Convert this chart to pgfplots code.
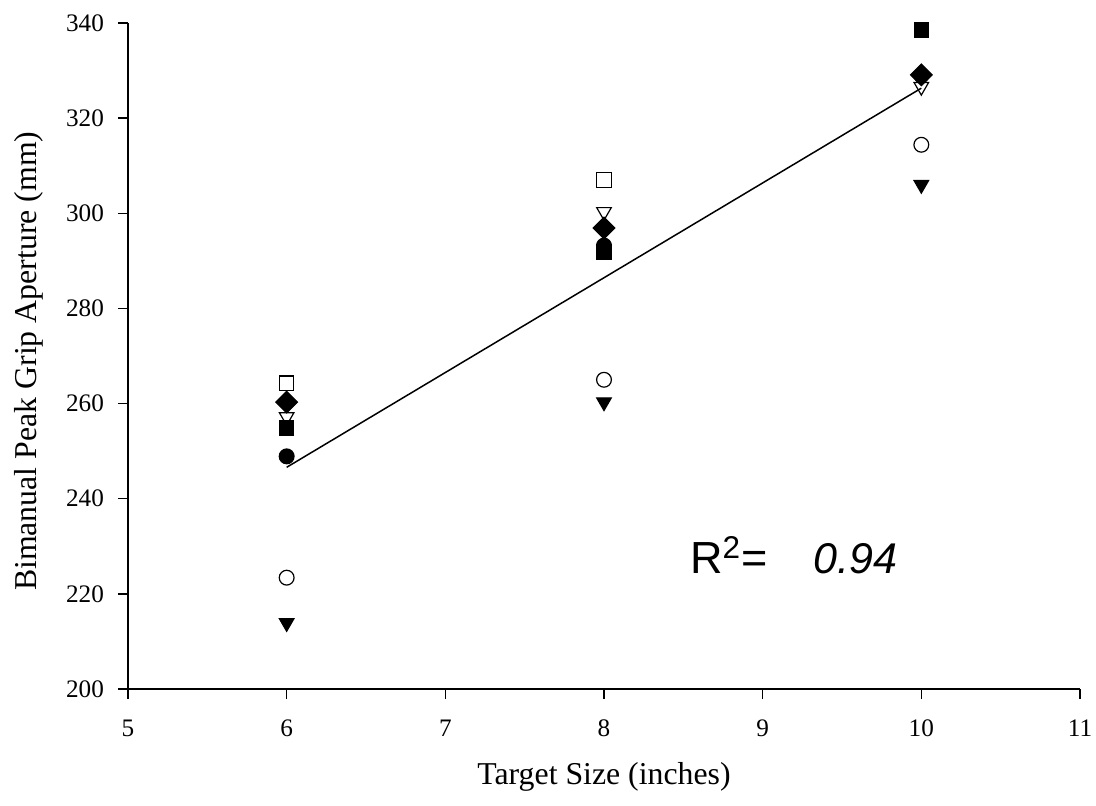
\documentclass[border=0pt]{standalone}
\usepackage{pgfplots}
\pgfplotsset{compat=1.18}
\usepackage{fontspec}
\setmainfont{Liberation Serif}
\newfontfamily\arial{Liberation Sans}
\begin{document}
\begin{tikzpicture}
\useasboundingbox (-64pt,-58.5pt) rectangle (484pt,344.5pt);
\begin{axis}[
  at={(0pt,0pt)}, anchor=south west,
  width=476pt, height=333pt, scale only axis,
  xmin=5, xmax=11, ymin=200, ymax=340,
  xtick={5,6,...,11}, ytick={200,220,...,340},
  axis x line=bottom, axis y line=left,
  axis line style={-, line width=0.75pt},
  tick style={black, line width=0.75pt},
  tick align=outside, major tick length=5pt,
  tick label style={font=\fontsize{12.6}{14}\selectfont},
  xticklabel style={yshift=-7pt},
  yticklabel style={xshift=-3.5pt},
  /pgf/number format/assume math mode=true,
  label style={font=\fontsize{15.9}{18}\selectfont},
  xlabel={Target Size (inches)},
  ylabel={Bimanual Peak Grip Aperture (mm)},
  xlabel style={at={(axis description cs:0.5,-0.1441)}, anchor=base},
  ylabel style={at={(axis description cs:-0.0966,0.492)}, anchor=base, rotate=0},
  clip=false,
]
% regression line
\addplot[sharp plot, no marks, black, line width=0.75pt] coordinates {(6,246.6) (10,326.3)};
% open square
\addplot[only marks, line width=0.6pt, mark=square, mark size=3.6pt, mark options={fill=white, draw=black}] coordinates {(6,264.3) (8,307.0) (10,338.5)};
% filled square
\addplot[only marks, line width=0.6pt, mark=square*, mark size=3.6pt, mark options={fill=black, draw=black}] coordinates {(6,254.9) (8,291.9) (10,338.5)};
% open circle
\addplot[only marks, line width=0.6pt, mark=o, mark size=3.7pt, mark options={fill=white, draw=black}] coordinates {(6,223.4) (8,265.0) (10,314.4)};
% filled triangle down
\addplot[only marks, line width=0.6pt, mark=triangle*, mark size=4.2pt, mark options={rotate=180, fill=black, draw=black}] coordinates {(6,213.9) (8,260.3) (10,306.0)};
% filled circle
\addplot[only marks, line width=0.6pt, mark=*, mark size=3.7pt, mark options={fill=black, draw=black}] coordinates {(6,248.9) (8,293.2) (10,329.0)};
% open triangle down
\addplot[only marks, line width=0.6pt, mark=triangle, mark size=4.2pt, mark options={rotate=180, fill=white, draw=black}] coordinates {(6,257.2) (8,300.3) (10,326.6)};
% filled diamond
\addplot[only marks, line width=0.6pt, mark=square*, mark size=3.8pt, mark options={rotate=45, fill=black, draw=black}] coordinates {(6,260.3) (8,296.9) (10,329.1)};
\node[anchor=base west, inner sep=0pt, font=\arial\fontsize{22.5}{26}\selectfont] at (axis cs:8.54,224.2) {R\textsuperscript{2}=};
\node[anchor=base west, inner sep=0pt, font=\arial\itshape\fontsize{21.5}{26}\selectfont] at (axis cs:9.317,224.2) {0.94};
\end{axis}
\end{tikzpicture}
\end{document}
